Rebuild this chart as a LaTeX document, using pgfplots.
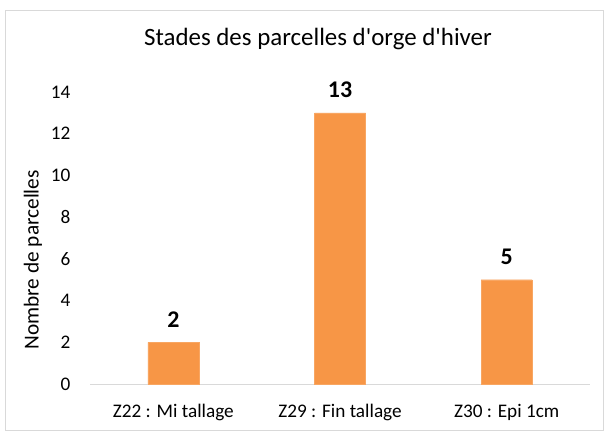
\documentclass[border=0pt]{standalone}
\usepackage{fontspec}
\setmainfont{Carlito}[Ligatures=TeXOff]
\usepackage{pgfplots}
\pgfplotsset{compat=1.18}
\definecolor{barorange}{HTML}{F79646}
\definecolor{framegray}{HTML}{D9D9D9}
\begin{document}
\begin{tikzpicture}[x=1bp,y=1bp]
\fill[white] (0,0) rectangle (606,432);
\draw[framegray, line width=1bp] (5,2) rectangle (603,421);
\begin{axis}[
  at={(90bp,48bp)}, anchor=south west,
  scale only axis, width=500bp, height=292bp,
  xmin=-0.5, xmax=2.5, ymin=0, ymax=14,
  ytick={0,2,4,6,8,10,12,14},
  xtick={0,1,2},
  xticklabels={Z22 : Mi tallage, Z29 : Fin tallage, Z30 : Epi 1cm},
  major tick length=0pt,
  axis x line*=bottom, axis y line*=left,
  axis line style={-},
  x axis line style={draw=framegray, line width=1bp},
  y axis line style={draw=none},
  /pgf/number format/assume math mode=true,
  tick label style={font=\fontsize{19.3}{23}\selectfont, text=black},
  yticklabel style={anchor=east, xshift=-16bp},
  xticklabel style={anchor=center, yshift=-28bp},
  ylabel={Nombre de parcelles},
  ylabel style={at={(axis description cs:-0.114,0.425)}, anchor=center, font=\fontsize{21.4}{25}\selectfont},
  title={Stades des parcelles d'orge d'hiver},
  title style={at={(axis description cs:0.456,1.161)}, anchor=center, font=\fontsize{25}{30}\selectfont},
  nodes near coords,
  nodes near coords style={anchor=center, yshift=23bp, font=\bfseries\fontsize{24}{28}\selectfont, /pgf/number format/assume math mode=true},
  clip=false,
]
\addplot[ybar, bar width=51bp, fill=barorange, draw=barorange!85!white] coordinates {(0,2) (1,13) (2,5)};
\end{axis}
\end{tikzpicture}
\end{document}
